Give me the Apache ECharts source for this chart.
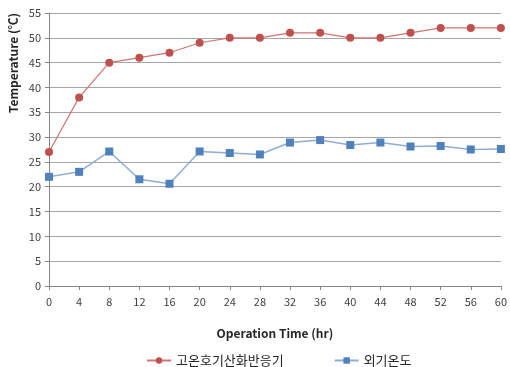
<!DOCTYPE html>
<html><head><meta charset="utf-8">
<script src="https://cdn.jsdelivr.net/npm/echarts@6/dist/echarts.min.js"></script>
<style>html,body{margin:0;padding:0;background:#fff}#c{width:510px;height:367px}</style>
</head><body><div id="c"></div>
<script>
const categories = ['0','4','8','12','16','20','24','28','32','36','40','44','48','52','56','60'];
const reactorTemp = [27, 38, 45, 46, 47, 49, 50, 50, 51, 51, 50, 50, 51, 52, 52, 52];
const outdoorTemp = [22, 23, 27.1, 21.5, 20.6, 27.1, 26.8, 26.5, 28.9, 29.4, 28.4, 28.9, 28.1, 28.2, 27.5, 27.6];
const seriesNames = ['고온호기산화반응기', '외기온도'];
const yTitle = 'Temperature (℃)';
const xTitle = 'Operation Time (hr)';

const chart = echarts.init(document.getElementById('c'), null, {renderer:'canvas'});
const font = '"Noto Sans CJK KR", "Noto Sans", sans-serif';
chart.setOption({
  animation: false,
  textStyle: {fontFamily: font},
  grid: {left: 49, right: 6, top: 13, bottom: 81, containLabel: false},
  xAxis: {
    type: 'category', data: categories, boundaryGap: false,
    axisLine: {lineStyle: {color: '#868686', width: 1}},
    axisTick: {show: true, alignWithLabel: true, length: 4, lineStyle: {color: '#868686'}},
    axisLabel: {color: '#404040', fontSize: 11, margin: 10, fontFamily: font},
    splitLine: {show: false},
    name: xTitle, nameLocation: 'middle', nameGap: 41,
    nameTextStyle: {fontWeight: 'bold', fontSize: 12, color: '#262626', fontFamily: font}
  },
  yAxis: {
    type: 'value', min: 0, max: 55, interval: 5,
    axisLine: {show: true, lineStyle: {color: '#868686', width: 1}},
    axisTick: {show: true, length: 4, lineStyle: {color: '#868686'}},
    axisLabel: {color: '#404040', fontSize: 11, margin: 8, fontFamily: font},
    splitLine: {show: true, lineStyle: {color: '#a6a6a6', width: 1}}
  },
  graphic: [{
    type: 'text', rotation: Math.PI/2,
    style: {text: yTitle, font: 'bold 12px ' + font, fill: '#262626'},
    x: 7, y: 113, originX: 0, originY: 0
  }],
  legend: {
    top: 349, left: 141, itemGap: 50, itemWidth: 24, itemHeight: 8,
    textStyle: {color: '#262626', fontSize: 13, fontFamily: font},
    data: seriesNames
  },
  series: [
    {name: seriesNames[0], type: 'line', data: reactorTemp, symbol: 'circle', symbolSize: 8,
     lineStyle: {color: '#D07472', width: 1.2}, itemStyle: {color: '#C0504D'}},
    {name: seriesNames[1], type: 'line', data: outdoorTemp, symbol: 'rect', symbolSize: 8,
     lineStyle: {color: '#8EAED6', width: 1.5}, itemStyle: {color: '#4F81BD'}}
  ]
});
</script></body></html>
